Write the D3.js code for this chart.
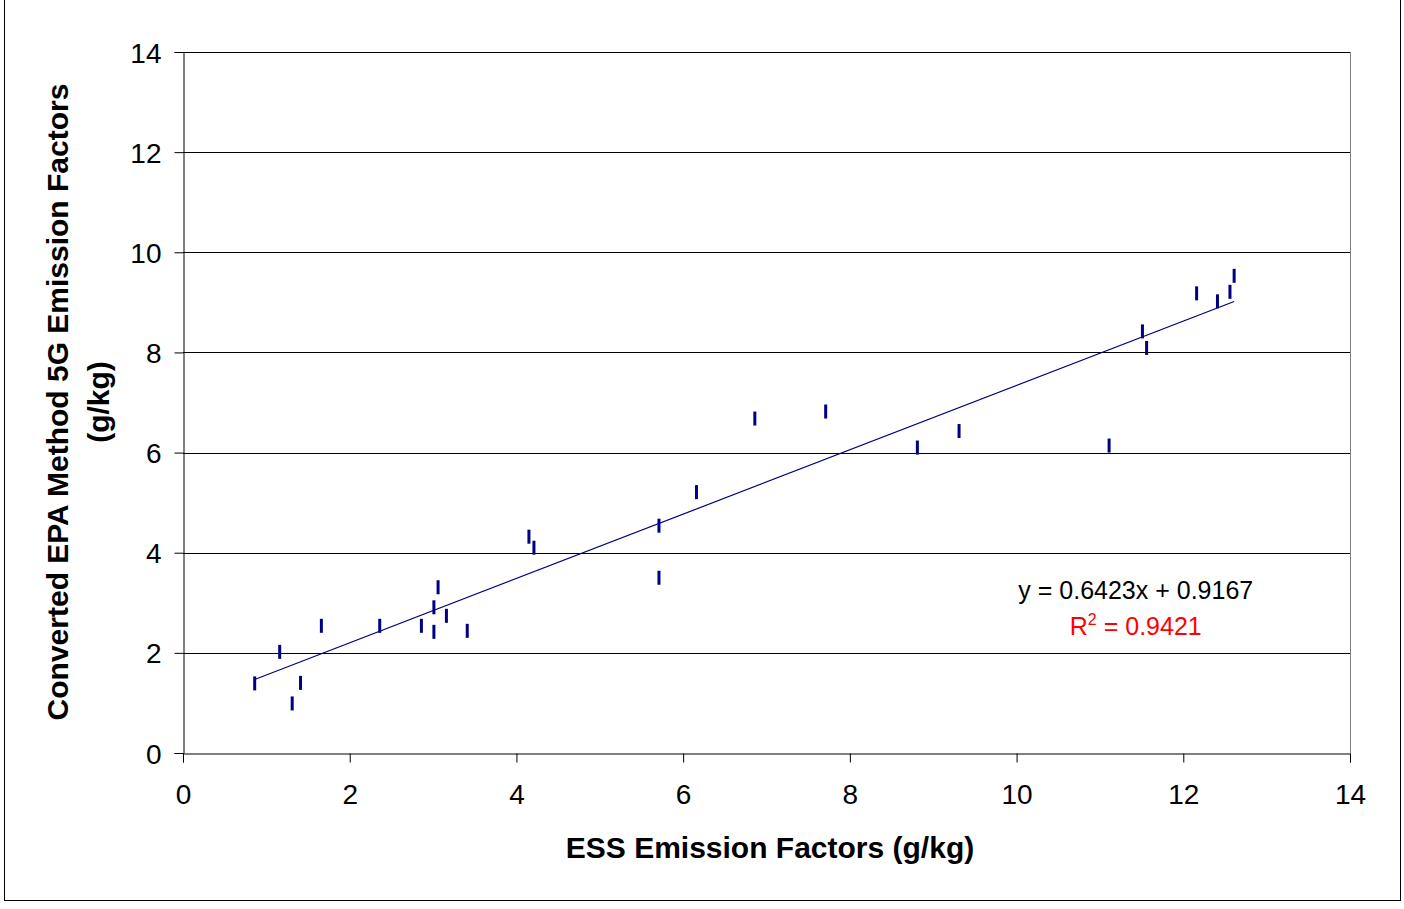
<!DOCTYPE html>
<html>
<head>
<meta charset="utf-8">
<script src="https://cdn.jsdelivr.net/npm/d3@7"></script>
<style>
  html, body { margin: 0; padding: 0; background: #fff; }
  svg { display: block; font-family: Arial, "Liberation Sans", sans-serif; }
</style>
</head>
<body>
<div id="chart"></div>
<script>
// ESS vs converted EPA Method 5G emission factors (g/kg)
const essValues = [
  0.86, 1.16, 1.31, 1.41, 1.66, 2.36, 2.86, 3.01, 3.01, 3.06, 3.16, 3.41,
  4.15, 4.21, 5.71, 5.71, 6.16, 6.86, 7.71,
  8.81, 9.31, 11.11, 11.51, 11.56, 12.16, 12.41, 12.56, 12.61
];
const epaValues = [
  1.39, 2.02, 0.99, 1.40, 2.54, 2.54, 2.54, 2.42, 2.91, 3.31, 2.74, 2.44,
  4.32, 4.10, 4.54, 3.50, 5.21, 6.68, 6.82,
  6.10, 6.43, 6.14, 8.42, 8.09, 9.18, 9.02, 9.21, 9.53
];
const xTicks = [0, 2, 4, 6, 8, 10, 12, 14];
const yTicks = [0, 2, 4, 6, 8, 10, 12, 14];
const slope = 0.6423;
const intercept = 0.9167;
const rSquared = 0.9421;

const width = 1404, height = 909;
const margin = { top: 52, right: 54, bottom: 156, left: 183 };
const innerW = width - margin.left - margin.right;
const innerH = height - margin.top - margin.bottom;

const svg = d3.select('#chart')
  .append('svg')
  .attr('width', width)
  .attr('height', height);

// outer chart border
svg.append('rect')
  .attr('x', 4.5).attr('y', -2)
  .attr('width', 1396).attr('height', 902.5)
  .attr('fill', 'none')
  .attr('stroke', '#000')
  .attr('stroke-width', 1);

const g = svg.append('g')
  .attr('transform', `translate(${margin.left},${margin.top})`);

const x = d3.scaleLinear().domain([0, 14]).range([0, innerW]);
const y = d3.scaleLinear().domain([0, 14]).range([innerH, 0]);

// gridlines
g.append('g')
  .selectAll('line')
  .data(yTicks.filter((d) => d > 0))
  .join('line')
  .attr('x1', 0).attr('x2', innerW)
  .attr('y1', (d) => Math.round(y(d)) + 0.5)
  .attr('y2', (d) => Math.round(y(d)) + 0.5)
  .attr('stroke', '#000')
  .attr('stroke-width', 1);

// plot area right border
g.append('line')
  .attr('x1', innerW + 0.5).attr('x2', innerW + 0.5)
  .attr('y1', 0).attr('y2', innerH)
  .attr('stroke', '#808080');

// axes
const xAxis = g.append('g')
  .attr('transform', `translate(0,${innerH + 0.5})`)
  .call(d3.axisBottom(x).tickValues(xTicks).tickSize(9).tickPadding(22));

const yAxis = g.append('g')
  .attr('transform', 'translate(0.5,0)')
  .call(d3.axisLeft(y).tickValues(yTicks).tickSize(9).tickPadding(13));

[xAxis, yAxis].forEach((ax) => {
  ax.select('.domain').attr('stroke', '#000');
  ax.selectAll('.tick line').attr('stroke', '#000');
  ax.selectAll('.tick text')
    .attr('fill', '#000')
    .style('font-size', '28px')
    .style('font-family', 'Arial, "Liberation Sans", sans-serif');
});
yAxis.selectAll('.tick text').attr('dy', '0.36em');

// trendline
const xMin = d3.min(essValues), xMax = d3.max(essValues);
g.append('line')
  .attr('x1', x(xMin)).attr('y1', y(slope * xMin + intercept))
  .attr('x2', x(xMax)).attr('y2', y(slope * xMax + intercept))
  .attr('stroke', '#000080')
  .attr('stroke-width', 1.2);

// dash markers
const points = essValues.map((v, i) => ({ x: v, y: epaValues[i] }));
g.append('g')
  .selectAll('rect')
  .data(points)
  .join('rect')
  .attr('x', (d) => x(d.x) - 1.5)
  .attr('y', (d) => y(d.y) - 7)
  .attr('width', 3)
  .attr('height', 14)
  .attr('fill', '#000080');

// trend equation
const eq = g.append('g').attr('text-anchor', 'middle')
  .style('font-size', '25px');
eq.append('text')
  .attr('x', x(11.43)).attr('y', y(3.08))
  .attr('fill', '#000')
  .text(`y = ${slope}x + ${intercept}`);
const r2 = eq.append('text')
  .attr('x', x(11.43)).attr('y', y(2.36))
  .attr('fill', '#ff0000');
r2.append('tspan').text('R');
r2.append('tspan').attr('dy', -10).style('font-size', '16px').text('2');
r2.append('tspan').attr('dy', 10).text(` = ${rSquared}`);

// axis titles
svg.append('text')
  .attr('x', 770).attr('y', 858)
  .attr('text-anchor', 'middle')
  .style('font-size', '30px')
  .style('font-weight', 'bold')
  .text('ESS Emission Factors (g/kg)');

const yTitle = svg.append('text')
  .attr('transform', 'translate(68,402) rotate(-90)')
  .attr('text-anchor', 'middle')
  .style('font-size', '30px')
  .style('font-weight', 'bold');
yTitle.append('tspan').attr('x', 0).attr('y', 0)
  .text('Converted EPA Method 5G Emission Factors');
yTitle.append('tspan').attr('x', 0).attr('y', 41)
  .text('(g/kg)');
</script>
</body>
</html>
